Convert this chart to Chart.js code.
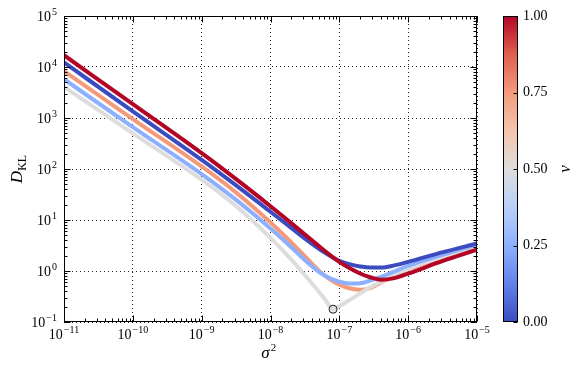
<!DOCTYPE html>
<html>
<head>
<meta charset="utf-8">
<script src="https://cdn.jsdelivr.net/npm/chart.js@4.4.0/dist/chart.umd.min.js"></script>
<style>
  html, body { margin: 0; padding: 0; background: #fff; }
  #wrap { position: relative; width: 581px; height: 372px; }
  #wrap canvas { position: absolute; left: 0; top: 0; }
</style>
</head>
<body>
<div id="wrap">
  <canvas id="main" width="581" height="372"></canvas>
  <canvas id="cbar" width="581" height="372"></canvas>
</div>
<script>
// sigma^2 sample points (x)
const sigma2 = [1e-11, 1e-10, 1e-9, 3.2e-9, 1e-8, 1.8e-8, 3.2e-8, 5e-8, 6.3e-8, 8e-8,
  1e-7, 1.4e-7, 2e-7, 2.8e-7, 4e-7, 6.3e-7, 1e-6, 3.2e-6, 1e-5];

// D_KL, one list per v
const dklV000 = [1.23e4, 1349, 151, 47.3, 14.5, 7.85, 4.27, 2.75, 2.24, 1.84,
  1.58, 1.36, 1.23, 1.17, 1.17, 1.29, 1.51, 2.34, 3.47];
const dklV025 = [5750, 661, 79.4, 24.5, 6.82, 3.35, 1.61, 0.975, 0.80, 0.686,
  0.617, 0.569, 0.575, 0.646, 0.767, 0.977, 1.26, 2.09, 3.31];
const dklV050 = [4070, 501, 61.7, 18.5, 4.46, 1.95, 0.817, 0.398, 0.27, 0.18,
  0.204, 0.269, 0.363, 0.479, 0.617, 0.813, 1.10, 1.91, 3.16];
const dklV075 = [8320, 955, 112, 34.0, 8.91, 4.19, 1.91, 1.03, 0.794, 0.637,
  0.541, 0.458, 0.429, 0.462, 0.596, 0.794, 1.07, 1.86, 3.02];
const dklV100 = [1.7e4, 1862, 204, 62.4, 18.6, 9.77, 5.13, 3.11, 2.41, 1.88,
  1.51, 1.14, 0.893, 0.755, 0.673, 0.724, 0.891, 1.58, 2.63];

// marked minimum
const markerX = [8.1e-8];
const markerY = [0.178];

const xTicks = [1e-11, 1e-10, 1e-9, 1e-8, 1e-7, 1e-6, 1e-5];
const yTicks = [1e-1, 1e0, 1e1, 1e2, 1e3, 1e4, 1e5];
const cbarTicks = [0, 0.25, 0.5, 0.75, 1];

// coolwarm colour map anchors
const coolwarm = [
  [0.0, [59, 76, 192]], [0.125, [98, 130, 234]], [0.25, [141, 176, 254]],
  [0.375, [184, 208, 249]], [0.5, [221, 221, 221]], [0.625, [245, 196, 173]],
  [0.75, [244, 154, 123]], [0.875, [222, 96, 77]], [1.0, [180, 4, 38]]
];
const cw = (v) => {
  const c = coolwarm.find(a => a[0] === v)[1];
  return 'rgb(' + c.join(',') + ')';
};

const serif = '"Liberation Serif", "DejaVu Serif", serif';

// 10^n label with a raised exponent
function drawPow(ctx, n, x, y, align) {
  ctx.font = '14px ' + serif;
  const wb = ctx.measureText('10').width;
  const sup = n < 0 ? '\u2212' + (-n) : String(n);
  ctx.font = '10px ' + serif;
  const ws = ctx.measureText(sup).width;
  const w = wb + 1 + ws;
  const x0 = align === 'center' ? x - w / 2 : x - w;
  ctx.textAlign = 'left';
  ctx.textBaseline = 'alphabetic';
  ctx.font = '14px ' + serif;
  ctx.fillText('10', x0, y);
  ctx.font = '10px ' + serif;
  ctx.fillText(sup, x0 + wb + 1, y - 6);
}

const frame = {
  id: 'frame',
  afterDraw(chart) {
    const { ctx, chartArea: a, scales: { x, y } } = chart;
    ctx.save();
    ctx.strokeStyle = '#000';
    ctx.fillStyle = '#000';
    ctx.lineWidth = 1;
    const L = Math.round(a.left) + 0.5, R = Math.round(a.right) - 0.5;
    const T = Math.round(a.top) + 0.5, B = Math.round(a.bottom) - 0.5;
    ctx.strokeRect(L, T, R - L, B - T);

    // inward ticks, major and minor, all four sides
    ctx.beginPath();
    for (let k = -11; k <= -5; k++) {
      for (let m = 1; m <= 9; m++) {
        const v = m * Math.pow(10, k);
        if (v > 1.0001e-5) break;
        const px = Math.round(x.getPixelForValue(v)) + 0.5;
        const len = m === 1 ? 6 : 3;
        ctx.moveTo(px, B); ctx.lineTo(px, B - len);
        ctx.moveTo(px, T); ctx.lineTo(px, T + len);
      }
    }
    for (let k = -1; k <= 5; k++) {
      for (let m = 1; m <= 9; m++) {
        const v = m * Math.pow(10, k);
        if (v > 1.0001e5) break;
        const py = Math.round(y.getPixelForValue(v)) + 0.5;
        const len = m === 1 ? 6 : 3;
        ctx.moveTo(L, py); ctx.lineTo(L + len, py);
        ctx.moveTo(R, py); ctx.lineTo(R - len, py);
      }
    }
    ctx.stroke();

    // tick labels
    xTicks.forEach(v => {
      drawPow(ctx, Math.round(Math.log10(v)), x.getPixelForValue(v), a.bottom + 17, 'center');
    });
    yTicks.forEach(v => {
      drawPow(ctx, Math.round(Math.log10(v)), a.left - 7, y.getPixelForValue(v) + 5, 'right');
    });

    // x title: sigma^2
    ctx.textAlign = 'left';
    ctx.font = 'italic 17px ' + serif;
    const ws = ctx.measureText('\u03c3').width;
    const cx = (a.left + a.right) / 2 - 5;
    ctx.fillText('\u03c3', cx - ws / 2, 358);
    ctx.font = '11px ' + serif;
    ctx.fillText('2', cx + ws / 2 + 1, 351);

    // y title: D_KL
    ctx.translate(22, (a.top + a.bottom) / 2);
    ctx.rotate(-Math.PI / 2);
    ctx.font = 'italic 17px ' + serif;
    const wd = ctx.measureText('D').width;
    ctx.font = '12px ' + serif;
    const wk = ctx.measureText('KL').width;
    const x0 = -(wd + wk) / 2;
    ctx.font = 'italic 17px ' + serif;
    ctx.fillText('D', x0, 0);
    ctx.font = '12px ' + serif;
    ctx.fillText('KL', x0 + wd, 4);
    ctx.restore();
  }
};

// first dataset is drawn on top
const curves = [
  { v: 1.0, vals: dklV100 },
  { v: 0.0, vals: dklV000 },
  { v: 0.25, vals: dklV025 },
  { v: 0.5, vals: dklV050 },
  { v: 0.75, vals: dklV075 }
];

const datasets = [{
  type: 'scatter',
  data: markerX.map((s, i) => ({ x: s, y: markerY[i] })),
  pointRadius: 4,
  pointBorderWidth: 1,
  borderColor: '#222',
  backgroundColor: 'rgba(221,221,221,0.6)',
  showLine: false
}].concat(curves.map(c => ({
  data: sigma2.map((s, i) => ({ x: s, y: c.vals[i] })),
  borderColor: cw(c.v),
  borderWidth: 4,
  pointRadius: 0,
  fill: false,
  cubicInterpolationMode: 'monotone'
})));

new Chart(document.getElementById('main'), {
  type: 'line',
  data: { datasets: datasets },
  options: {
    responsive: false,
    animation: false,
    layout: { padding: { left: 0, right: 104, top: 16, bottom: 0 } },
    plugins: { legend: { display: false }, tooltip: { enabled: false } },
    scales: {
      x: {
        type: 'logarithmic', min: 1e-11, max: 1e-5,
        afterBuildTicks: s => { s.ticks = xTicks.map(v => ({ value: v })); },
        afterFit: s => { s.height = 50; },
        ticks: { display: false },
        grid: { color: '#222', lineWidth: 1, drawTicks: false },
        border: { display: false, dash: [1, 3] }
      },
      y: {
        type: 'logarithmic', min: 1e-1, max: 1e5,
        afterBuildTicks: s => { s.ticks = yTicks.map(v => ({ value: v })); },
        afterFit: s => { s.width = 64; },
        ticks: { display: false },
        grid: { color: '#222', lineWidth: 1, drawTicks: false },
        border: { display: false, dash: [1, 3] }
      }
    }
  },
  plugins: [frame]
});

// colour bar
const cbarFrame = {
  id: 'cbarFrame',
  afterDraw(chart) {
    const { ctx, chartArea: a, scales: { y } } = chart;
    ctx.save();
    ctx.strokeStyle = '#000';
    ctx.lineWidth = 1;
    const L = Math.round(a.left) + 0.5, R = Math.round(a.right) - 0.5;
    const T = Math.round(a.top) + 0.5, B = Math.round(a.bottom) - 0.5;
    ctx.strokeRect(L, T, R - L, B - T);
    ctx.beginPath();
    cbarTicks.forEach(v => {
      const py = Math.round(y.getPixelForValue(v)) + 0.5;
      ctx.moveTo(R, py); ctx.lineTo(R - 4, py);
    });
    ctx.stroke();
    ctx.fillStyle = '#000';
    ctx.translate(566, (a.top + a.bottom) / 2);
    ctx.rotate(-Math.PI / 2);
    ctx.font = 'italic 17px ' + serif;
    ctx.textAlign = 'center';
    ctx.textBaseline = 'middle';
    ctx.fillText('v', 0, 0);
    ctx.restore();
  }
};

const barFill = (context) => {
  const a = context.chart.chartArea;
  if (!a) return cw(0.5);
  const g = context.chart.ctx.createLinearGradient(0, a.bottom, 0, a.top);
  coolwarm.forEach(([p, c]) => g.addColorStop(p, 'rgb(' + c.join(',') + ')'));
  return g;
};

new Chart(document.getElementById('cbar'), {
  type: 'bar',
  data: {
    labels: ['v'],
    datasets: [{
      data: [[0, 1]],
      backgroundColor: barFill,
      borderWidth: 0,
      barPercentage: 1,
      categoryPercentage: 1
    }]
  },
  options: {
    responsive: false,
    animation: false,
    layout: { padding: { left: 503, right: 13, top: 16, bottom: 50 } },
    plugins: { legend: { display: false }, tooltip: { enabled: false } },
    scales: {
      x: { display: false },
      y: {
        position: 'right', min: 0, max: 1,
        afterBuildTicks: s => { s.ticks = cbarTicks.map(v => ({ value: v })); },
        afterFit: s => { s.width = 50; },
        grid: { display: false, drawTicks: false },
        border: { display: false },
        ticks: {
          color: '#000', padding: 5,
          font: { family: serif, size: 14 },
          callback: v => v.toFixed(2)
        }
      }
    }
  },
  plugins: [cbarFrame]
});
</script>
</body>
</html>
